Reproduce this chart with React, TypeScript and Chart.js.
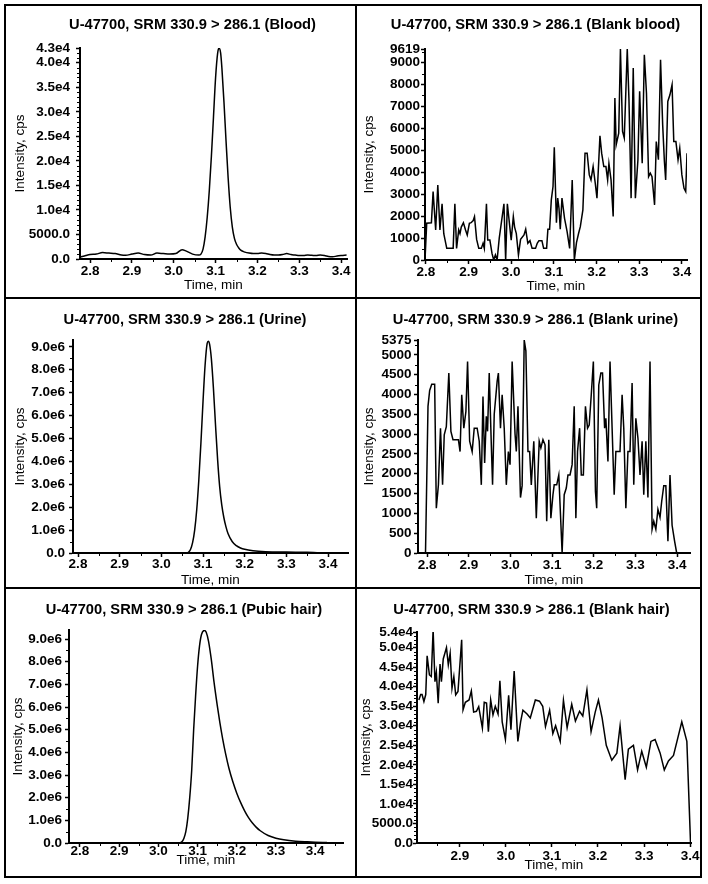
import React, { useEffect, useRef } from 'react';
import { Chart, registerables } from 'chart.js';

Chart.register(...registerables);

const FONT = '"Liberation Sans", Arial, Helvetica, sans-serif';

// ---------- Data ----------
const bloodTime = [2.777, 2.79, 2.8, 2.815, 2.83, 2.845, 2.86, 2.875, 2.885, 2.9, 2.915, 2.93, 2.945, 2.96, 2.975, 2.99, 3.005, 3.02, 3.03, 3.045, 3.06, 3.065, 3.07, 3.075, 3.08, 3.085, 3.09, 3.095, 3.1, 3.105, 3.108, 3.112, 3.115, 3.12, 3.125, 3.13, 3.135, 3.14, 3.145, 3.15, 3.155, 3.16, 3.17, 3.18, 3.19, 3.2, 3.21, 3.22, 3.23, 3.24, 3.25, 3.26, 3.27, 3.28, 3.29, 3.3, 3.31, 3.32, 3.33, 3.34, 3.35, 3.36, 3.37, 3.38, 3.39, 3.4, 3.413];
const bloodIntensity = [400, 700, 900, 1000, 1300, 1200, 1100, 800, 750, 1000, 1200, 900, 800, 1200, 1100, 1000, 1100, 1900, 1600, 1000, 800, 1000, 2000, 4500, 8500, 14000, 21000, 29000, 37000, 42000, 43000, 42000, 39000, 32000, 24000, 16500, 10500, 6500, 4200, 3000, 2300, 1800, 1400, 1200, 1100, 1100, 1200, 1100, 900, 800, 800, 900, 1100, 900, 800, 700, 700, 800, 750, 700, 800, 700, 500, 450, 600, 700, 800];

const blankBloodTime = [2.798, 2.802, 2.813, 2.817, 2.823, 2.828, 2.833, 2.838, 2.842, 2.849, 2.864, 2.868, 2.872, 2.877, 2.88, 2.883, 2.888, 2.893, 2.897, 2.902, 2.906, 2.911, 2.914, 2.919, 2.924, 2.93, 2.934, 2.937, 2.942, 2.945, 2.95, 2.955, 2.959, 2.963, 2.967, 2.972, 2.983, 2.987, 2.991, 2.995, 3.0, 3.005, 3.008, 3.012, 3.017, 3.022, 3.03, 3.034, 3.039, 3.044, 3.049, 3.057, 3.061, 3.065, 3.072, 3.076, 3.083, 3.086, 3.09, 3.094, 3.098, 3.101, 3.106, 3.109, 3.112, 3.115, 3.119, 3.125, 3.131, 3.137, 3.143, 3.148, 3.153, 3.158, 3.162, 3.168, 3.173, 3.178, 3.183, 3.187, 3.192, 3.197, 3.201, 3.208, 3.212, 3.217, 3.222, 3.226, 3.229, 3.234, 3.239, 3.243, 3.246, 3.252, 3.256, 3.261, 3.265, 3.272, 3.276, 3.281, 3.286, 3.291, 3.297, 3.301, 3.307, 3.312, 3.317, 3.322, 3.326, 3.33, 3.336, 3.34, 3.345, 3.35, 3.355, 3.359, 3.362, 3.367, 3.372, 3.377, 3.381, 3.386, 3.391, 3.395, 3.4, 3.405, 3.409, 3.412];
const blankBloodIntensity = [0, 1675, 1700, 3120, 1370, 3420, 1370, 2560, 1200, 530, 530, 2560, 530, 1370, 1200, 1500, 1700, 1370, 1140, 1675, 1700, 1800, 1980, 940, 530, 530, 760, 530, 2560, 910, 910, 300, 0, 230, 0, 1000, 2560, 0, 2560, 1830, 900, 1980, 1500, 1200, 230, 940, 1140, 1400, 760, 880, 530, 530, 760, 880, 880, 530, 530, 1400, 1400, 2740, 3350, 5140, 1700, 2820, 2360, 1400, 2820, 1900, 1290, 530, 3650, 0, 790, 1220, 1520, 2280, 4870, 4870, 3880, 3650, 4260, 3500, 2820, 5660, 4870, 4260, 4260, 3650, 4400, 3650, 1980, 7380, 5250, 5780, 9619, 5860, 5560, 9619, 7300, 2820, 8750, 2820, 4570, 7690, 4410, 9360, 7610, 3800, 3960, 3800, 2510, 5400, 4570, 9130, 6160, 4500, 3650, 7230, 7530, 7990, 5400, 5400, 4570, 5100, 3880, 3270, 3120, 4870];

const urineTime = [2.788, 2.9, 3.0, 3.055, 3.06, 3.065, 3.07, 3.075, 3.08, 3.085, 3.09, 3.095, 3.1, 3.105, 3.11, 3.113, 3.116, 3.12, 3.125, 3.13, 3.135, 3.14, 3.145, 3.15, 3.155, 3.16, 3.17, 3.18, 3.19, 3.2, 3.22, 3.25, 3.3, 3.35, 3.38, 3.42, 3.446];
const urineIntensity = [0, 0, 0, 0, 5000, 30000, 150000, 450000, 1000000, 1900000, 3200000, 4800000, 6600000, 8200000, 9150000, 9250000, 9100000, 8500000, 7200000, 5600000, 4100000, 2900000, 2100000, 1550000, 1150000, 850000, 500000, 320000, 220000, 160000, 100000, 60000, 40000, 30000, 10000, 0, 0];

const blankUrineTime = [2.796, 2.802, 2.806, 2.811, 2.818, 2.822, 2.827, 2.832, 2.837, 2.841, 2.846, 2.852, 2.857, 2.862, 2.869, 2.875, 2.879, 2.883, 2.888, 2.893, 2.897, 2.902, 2.908, 2.913, 2.92, 2.925, 2.93, 2.934, 2.938, 2.942, 2.945, 2.949, 2.954, 2.957, 2.961, 2.968, 2.971, 2.976, 2.98, 2.985, 2.99, 2.995, 2.999, 3.004, 3.011, 3.014, 3.018, 3.024, 3.028, 3.033, 3.037, 3.042, 3.046, 3.05, 3.056, 3.062, 3.069, 3.073, 3.078, 3.083, 3.087, 3.092, 3.097, 3.102, 3.105, 3.111, 3.116, 3.124, 3.129, 3.134, 3.138, 3.143, 3.148, 3.153, 3.157, 3.161, 3.166, 3.17, 3.175, 3.18, 3.185, 3.189, 3.194, 3.199, 3.204, 3.207, 3.212, 3.217, 3.221, 3.226, 3.229, 3.234, 3.239, 3.244, 3.249, 3.253, 3.258, 3.263, 3.268, 3.272, 3.277, 3.282, 3.287, 3.292, 3.296, 3.301, 3.306, 3.311, 3.316, 3.32, 3.325, 3.33, 3.335, 3.34, 3.344, 3.349, 3.354, 3.359, 3.363, 3.368, 3.373, 3.378, 3.383, 3.388, 3.394, 3.399];
const blankUrineIntensity = [0, 3700, 4100, 4260, 4260, 1130, 1720, 3150, 1720, 2980, 3190, 4540, 3070, 2860, 2860, 2860, 2560, 3990, 3150, 3570, 4830, 2820, 2560, 3150, 3150, 2820, 1720, 3950, 2270, 3450, 3070, 4540, 2730, 1720, 3500, 4330, 4540, 3150, 3990, 3150, 1720, 2560, 2230, 4830, 3000, 2560, 3700, 1400, 1700, 5375, 5100, 2560, 2560, 1720, 2820, 880, 2820, 2650, 2860, 2730, 800, 2860, 880, 1470, 1720, 1720, 1970, 0, 1470, 1640, 1970, 1970, 2230, 3700, 880, 2560, 3150, 1970, 1970, 3700, 3150, 3230, 4000, 4830, 1550, 1130, 4240, 4540, 4540, 3150, 3400, 2310, 4830, 3150, 1470, 2560, 2560, 2560, 3990, 3150, 1130, 2560, 2560, 4290, 1720, 3400, 2900, 1970, 2820, 1470, 2820, 1400, 4830, 600, 800, 600, 1100, 900, 1300, 1700, 1700, 300, 1970, 700, 300, 0];

const hairTime = [2.772, 2.9, 3.0, 3.05, 3.055, 3.06, 3.065, 3.07, 3.075, 3.08, 3.085, 3.09, 3.095, 3.1, 3.105, 3.11, 3.117, 3.122, 3.128, 3.135, 3.142, 3.15, 3.157, 3.164, 3.172, 3.18, 3.19, 3.2, 3.21, 3.22, 3.23, 3.24, 3.25, 3.26, 3.28, 3.3, 3.32, 3.35, 3.38, 3.4, 3.43];
const hairIntensity = [0, 0, 0, 0, 10000, 50000, 200000, 500000, 1100000, 2000000, 3200000, 5000000, 6500000, 7800000, 8700000, 9200000, 9380000, 9300000, 8900000, 8100000, 7100000, 6100000, 5300000, 4600000, 3900000, 3300000, 2700000, 2200000, 1780000, 1420000, 1120000, 880000, 690000, 540000, 330000, 210000, 140000, 80000, 50000, 35000, 20000];

const blankHairTime = [2.811, 2.815, 2.818, 2.822, 2.826, 2.829, 2.834, 2.838, 2.842, 2.846, 2.849, 2.853, 2.857, 2.86, 2.864, 2.871, 2.875, 2.879, 2.883, 2.887, 2.891, 2.896, 2.904, 2.907, 2.912, 2.92, 2.925, 2.93, 2.936, 2.941, 2.949, 2.953, 2.958, 2.962, 2.967, 2.972, 2.977, 2.983, 2.987, 2.992, 2.999, 3.006, 3.011, 3.018, 3.026, 3.032, 3.037, 3.046, 3.053, 3.064, 3.073, 3.08, 3.086, 3.095, 3.102, 3.108, 3.118, 3.125, 3.133, 3.143, 3.151, 3.16, 3.167, 3.176, 3.185, 3.194, 3.201, 3.209, 3.218, 3.23, 3.241, 3.248, 3.259, 3.266, 3.277, 3.286, 3.295, 3.305, 3.315, 3.324, 3.335, 3.344, 3.353, 3.364, 3.382, 3.393, 3.401];
const blankHairIntensity = [36600, 38000, 38000, 36200, 38000, 47900, 43000, 42600, 54500, 41300, 43700, 35800, 45800, 41300, 47100, 50000, 45600, 48600, 39600, 42600, 37900, 38800, 52000, 34100, 36000, 36600, 38900, 33500, 33700, 34900, 29400, 36000, 35800, 28500, 36600, 32800, 35000, 33000, 41500, 31000, 26500, 37800, 29000, 44000, 26000, 31000, 34000, 33000, 32000, 36600, 36300, 35000, 29800, 34000, 28000, 30000, 26000, 36500, 29500, 35500, 31200, 33700, 32500, 39200, 28500, 33500, 36600, 32000, 25000, 21200, 23000, 30000, 16200, 24000, 25000, 18700, 23500, 19400, 26000, 26500, 23000, 18700, 21000, 22400, 31000, 26000, 0];

// ---------- Tick values and labels ----------
const xTicksFull = [2.8, 2.9, 3.0, 3.1, 3.2, 3.3, 3.4];
const xLabelsFull = ['2.8', '2.9', '3.0', '3.1', '3.2', '3.3', '3.4'];
const xTicksHair = [2.9, 3.0, 3.1, 3.2, 3.3, 3.4];
const xLabelsHair = ['2.9', '3.0', '3.1', '3.2', '3.3', '3.4'];

const bloodYTicks = [0, 5000, 10000, 15000, 20000, 25000, 30000, 35000, 40000, 43000];
const bloodYLabels = ['0.0', '5000.0', '1.0e4', '1.5e4', '2.0e4', '2.5e4', '3.0e4', '3.5e4', '4.0e4', '4.3e4'];
const blankBloodYTicks = [0, 1000, 2000, 3000, 4000, 5000, 6000, 7000, 8000, 9000, 9619];
const blankBloodYLabels = ['0', '1000', '2000', '3000', '4000', '5000', '6000', '7000', '8000', '9000', '9619'];
const urineYTicks = [0, 1e6, 2e6, 3e6, 4e6, 5e6, 6e6, 7e6, 8e6, 9e6];
const urineYLabels = ['0.0', '1.0e6', '2.0e6', '3.0e6', '4.0e6', '5.0e6', '6.0e6', '7.0e6', '8.0e6', '9.0e6'];
const blankUrineYTicks = [0, 500, 1000, 1500, 2000, 2500, 3000, 3500, 4000, 4500, 5000, 5375];
const blankUrineYLabels = ['0', '500', '1000', '1500', '2000', '2500', '3000', '3500', '4000', '4500', '5000', '5375'];
const hairYTicks = [0, 1e6, 2e6, 3e6, 4e6, 5e6, 6e6, 7e6, 8e6, 9e6];
const hairYLabels = ['0.0', '1.0e6', '2.0e6', '3.0e6', '4.0e6', '5.0e6', '6.0e6', '7.0e6', '8.0e6', '9.0e6'];
const blankHairYTicks = [0, 5000, 10000, 15000, 20000, 25000, 30000, 35000, 40000, 45000, 50000, 54000];
const blankHairYLabels = ['0.0', '5000.0', '1.0e4', '1.5e4', '2.0e4', '2.5e4', '3.0e4', '3.5e4', '4.0e4', '4.5e4', '5.0e4', '5.4e4'];

const titles = [
  'U-47700, SRM 330.9 > 286.1 (Blood)',
  'U-47700, SRM 330.9 > 286.1 (Blank blood)',
  'U-47700, SRM 330.9 > 286.1 (Urine)',
  'U-47700, SRM 330.9 > 286.1 (Blank urine)',
  'U-47700, SRM 330.9 > 286.1 (Pubic hair)',
  'U-47700, SRM 330.9 > 286.1 (Blank hair)',
];

type Panel = {
  title: string;
  time: number[];
  values: number[];
  smooth: boolean;
  xMin: number; xMax: number; yMax: number;
  xTicks: number[]; xLabels: string[];
  yTicks: number[]; yLabels: string[];
  xMinor: number; yMinor: number;
  cell: [number, number, number, number];
  area: [number, number, number, number];
  titleCx: number; titleCy: number;
  yTitleX: number; xTitleY: number; xTickY: number; yGap: number;
};

const panels: Panel[] = [
  {
    title: titles[0], time: bloodTime, values: bloodIntensity, smooth: true,
    xMin: 2.776, xMax: 3.414, yMax: 43000,
    xTicks: xTicksFull, xLabels: xLabelsFull, yTicks: bloodYTicks, yLabels: bloodYLabels,
    xMinor: 0.05, yMinor: 1000,
    cell: [6, 6, 355, 297], area: [80, 48, 347, 259],
    titleCx: 192.5, titleCy: 25, yTitleX: 20, xTitleY: 285, xTickY: 271, yGap: 10,
  },
  {
    title: titles[1], time: blankBloodTime, values: blankBloodIntensity, smooth: false,
    xMin: 2.798, xMax: 3.412, yMax: 9619,
    xTicks: xTicksFull, xLabels: xLabelsFull, yTicks: blankBloodYTicks, yLabels: blankBloodYLabels,
    xMinor: 0.05, yMinor: 500,
    cell: [357, 6, 701, 297], area: [425, 49, 687, 260],
    titleCx: 535.5, titleCy: 25, yTitleX: 369, xTitleY: 286, xTickY: 272, yGap: 5,
  },
  {
    title: titles[2], time: urineTime, values: urineIntensity, smooth: true,
    xMin: 2.788, xMax: 3.448, yMax: 9300000,
    xTicks: xTicksFull, xLabels: xLabelsFull, yTicks: urineYTicks, yLabels: urineYLabels,
    xMinor: 0.05, yMinor: 500000,
    cell: [6, 299, 355, 587], area: [73, 340, 348, 553],
    titleCx: 185, titleCy: 320, yTitleX: 20, xTitleY: 580, xTickY: 564, yGap: 8,
  },
  {
    title: titles[3], time: blankUrineTime, values: blankUrineIntensity, smooth: false,
    xMin: 2.778, xMax: 3.431, yMax: 5375,
    xTicks: xTicksFull, xLabels: xLabelsFull, yTicks: blankUrineYTicks, yLabels: blankUrineYLabels,
    xMinor: 0.05, yMinor: 250,
    cell: [357, 299, 701, 587], area: [418, 340, 690, 553],
    titleCx: 535.5, titleCy: 320, yTitleX: 369, xTitleY: 580, xTickY: 565, yGap: 6.5,
  },
  {
    title: titles[4], time: hairTime, values: hairIntensity, smooth: true,
    xMin: 2.772, xMax: 3.471, yMax: 9400000,
    xTicks: xTicksFull, xLabels: xLabelsFull, yTicks: hairYTicks, yLabels: hairYLabels,
    xMinor: 0.05, yMinor: 500000,
    cell: [6, 589, 355, 876], area: [69, 630, 343, 843],
    titleCx: 184, titleCy: 610, yTitleX: 18, xTitleY: 860, xTickY: 851, yGap: 7,
  },
  {
    title: titles[5], time: blankHairTime, values: blankHairIntensity, smooth: false,
    xMin: 2.807, xMax: 3.402, yMax: 54000,
    xTicks: xTicksHair, xLabels: xLabelsHair, yTicks: blankHairYTicks, yLabels: blankHairYLabels,
    xMinor: 0.05, yMinor: 1000,
    cell: [357, 589, 701, 876], area: [417, 632, 691, 843],
    titleCx: 531.5, titleCy: 610, yTitleX: 366, xTitleY: 865, xTickY: 856, yGap: 4,
  },
];

const TITLE_SIZE = 14.7;
const TICK_SIZE = 13.5;
const AXIS_TITLE_SIZE = 13.5;
const TICK_LEN = 4;

// Minor tick marks on both axes
const minorTicksPlugin = {
  id: 'minorTicks',
  afterDraw(chart: any, _args: any, opts: any) {
    const { ctx, chartArea, scales } = chart;
    const xs = scales.x;
    const ys = scales.y;
    ctx.save();
    ctx.strokeStyle = '#000';
    ctx.lineWidth = 1;
    const yStep = opts.y;
    const yMajors: number[] = opts.yMajors || [];
    for (let i = Math.ceil(ys.min / yStep); i * yStep <= ys.max + 1e-9; i++) {
      const v = i * yStep;
      if (yMajors.some((m) => Math.abs(m - v) < yStep * 0.01)) continue;
      const p = Math.round(ys.getPixelForValue(v)) + 0.5;
      ctx.beginPath();
      ctx.moveTo(chartArea.left - 3, p);
      ctx.lineTo(chartArea.left, p);
      ctx.stroke();
    }
    const xStep = opts.x;
    const xMajors: number[] = opts.xMajors || [];
    for (let i = Math.ceil(xs.min / xStep - 1e-9); i * xStep <= xs.max + 1e-9; i++) {
      const v = i * xStep;
      if (xMajors.some((m) => Math.abs(m - v) < xStep * 0.01)) continue;
      const p = Math.round(xs.getPixelForValue(v)) + 0.5;
      ctx.beginPath();
      ctx.moveTo(p, chartArea.bottom);
      ctx.lineTo(p, chartArea.bottom + 3);
      ctx.stroke();
    }
    ctx.restore();
  },
};

// Panel heading, centred at a given point of the canvas
const panelTitlePlugin = {
  id: 'panelTitle',
  afterDraw(chart: any, _args: any, opts: any) {
    const { ctx } = chart;
    ctx.save();
    ctx.fillStyle = '#000';
    ctx.font = `bold ${TITLE_SIZE}px ${FONT}`;
    ctx.textAlign = 'center';
    ctx.textBaseline = 'middle';
    ctx.fillText(opts.text, opts.x, opts.y);
    ctx.restore();
  },
};

function PanelChart({ panel }: { panel: Panel }) {
  const ref = useRef<HTMLCanvasElement | null>(null);
  const [cx0, cy0, , cy1] = panel.cell;
  const [aL, aT, aR, aB] = panel.area;
  const left = cx0;
  const padRight = 16;
  const width = Math.round(aR + padRight - cx0);
  const top = cy0;
  const height = cy1 - cy0;

  useEffect(() => {
    if (!ref.current) return;
    const padTop = aT - top;
    const yAxisWidth = aL - left;
    const xAxisHeight = top + height - aB;
    const axisLH = AXIS_TITLE_SIZE * 1.2;
    const tickLH = TICK_SIZE * 1.2;
    const yTitlePad = panel.yTitleX - left - axisLH / 2;
    const xTitlePad = top + height - panel.xTitleY - axisLH / 2;
    const xTickPad = panel.xTickY - aB - TICK_LEN - tickLH / 2;
    const yTickPad = panel.yGap - TICK_LEN;

    const data = panel.time.map((t, i) => ({ x: t, y: panel.values[i] }));
    const chart = new Chart(ref.current, {
      type: 'line',
      data: {
        datasets: [
          {
            data,
            borderColor: '#000',
            borderWidth: 1.5,
            pointRadius: 0,
            fill: false,
            tension: panel.smooth ? 0.4 : 0,
            cubicInterpolationMode: panel.smooth ? 'monotone' : 'default',
          } as any,
        ],
      },
      options: {
        responsive: false,
        animation: false,
        devicePixelRatio: 1,
        layout: { padding: { left: 0, top: padTop, right: padRight, bottom: 0 } },
        plugins: {
          legend: { display: false },
          tooltip: { enabled: false },
          title: { display: false },
          panelTitle: { text: panel.title, x: panel.titleCx - left, y: panel.titleCy - top },
          minorTicks: {
            x: panel.xMinor,
            y: panel.yMinor,
            xMajors: panel.xTicks,
            yMajors: panel.yTicks,
          },
        } as any,
        scales: {
          x: {
            type: 'linear',
            min: panel.xMin,
            max: panel.xMax,
            afterBuildTicks: (scale: any) => {
              scale.ticks = panel.xTicks.map((v) => ({ value: v }));
            },
            afterFit: (scale: any) => {
              scale.height = xAxisHeight;
            },
            ticks: {
              autoSkip: false,
              maxRotation: 0,
              color: '#000',
              padding: xTickPad,
              font: { family: FONT, size: TICK_SIZE, weight: 'bold', lineHeight: 1.2 },
              callback: (_v: any, i: number) => panel.xLabels[i],
            },
            grid: {
              display: true,
              drawOnChartArea: false,
              drawTicks: true,
              tickLength: TICK_LEN,
              tickWidth: 1.5,
              tickColor: '#000',
              color: '#000',
            },
            border: { display: true, color: '#000', width: 2 },
            title: {
              display: true,
              text: 'Time, min',
              color: '#000',
              font: { family: FONT, size: AXIS_TITLE_SIZE, weight: 'normal', lineHeight: 1.2 },
              padding: { top: 0, bottom: xTitlePad },
            },
          },
          y: {
            type: 'linear',
            min: 0,
            max: panel.yMax,
            afterBuildTicks: (scale: any) => {
              scale.ticks = panel.yTicks.map((v) => ({ value: v }));
            },
            afterFit: (scale: any) => {
              scale.width = yAxisWidth;
            },
            ticks: {
              autoSkip: false,
              color: '#000',
              padding: yTickPad,
              font: { family: FONT, size: TICK_SIZE, weight: 'bold', lineHeight: 1.2 },
              callback: (_v: any, i: number) => panel.yLabels[i],
            },
            grid: {
              display: true,
              drawOnChartArea: false,
              drawTicks: true,
              tickLength: TICK_LEN,
              tickWidth: 1.5,
              tickColor: '#000',
              color: '#000',
            },
            border: { display: true, color: '#000', width: 2 },
            title: {
              display: true,
              text: 'Intensity, cps',
              color: '#000',
              font: { family: FONT, size: AXIS_TITLE_SIZE, weight: 'normal', lineHeight: 1.2 },
              padding: { top: yTitlePad, bottom: 0 },
            },
          },
        },
      } as any,
      plugins: [minorTicksPlugin as any, panelTitlePlugin as any],
    });
    return () => chart.destroy();
  }, [panel]);

  return (
    <canvas
      ref={ref}
      width={width}
      height={height}
      style={{ position: 'absolute', left, top, width, height }}
    />
  );
}

export default function App() {
  const line = '#000';
  return (
    <div
      style={{
        position: 'fixed',
        left: 0,
        top: 0,
        width: 708,
        height: 884,
        background: '#fff',
        overflow: 'hidden',
      }}
    >
      {panels.map((p, i) => (
        <PanelChart key={i} panel={p} />
      ))}
      <div style={{ position: 'absolute', left: 4, top: 4, width: 698, height: 874, boxSizing: 'border-box', border: `2px solid ${line}`, pointerEvents: 'none' }} />
      <div style={{ position: 'absolute', left: 355, top: 4, width: 2, height: 874, background: line }} />
      <div style={{ position: 'absolute', left: 4, top: 297, width: 698, height: 2, background: line }} />
      <div style={{ position: 'absolute', left: 4, top: 587, width: 698, height: 2, background: line }} />
    </div>
  );
}
